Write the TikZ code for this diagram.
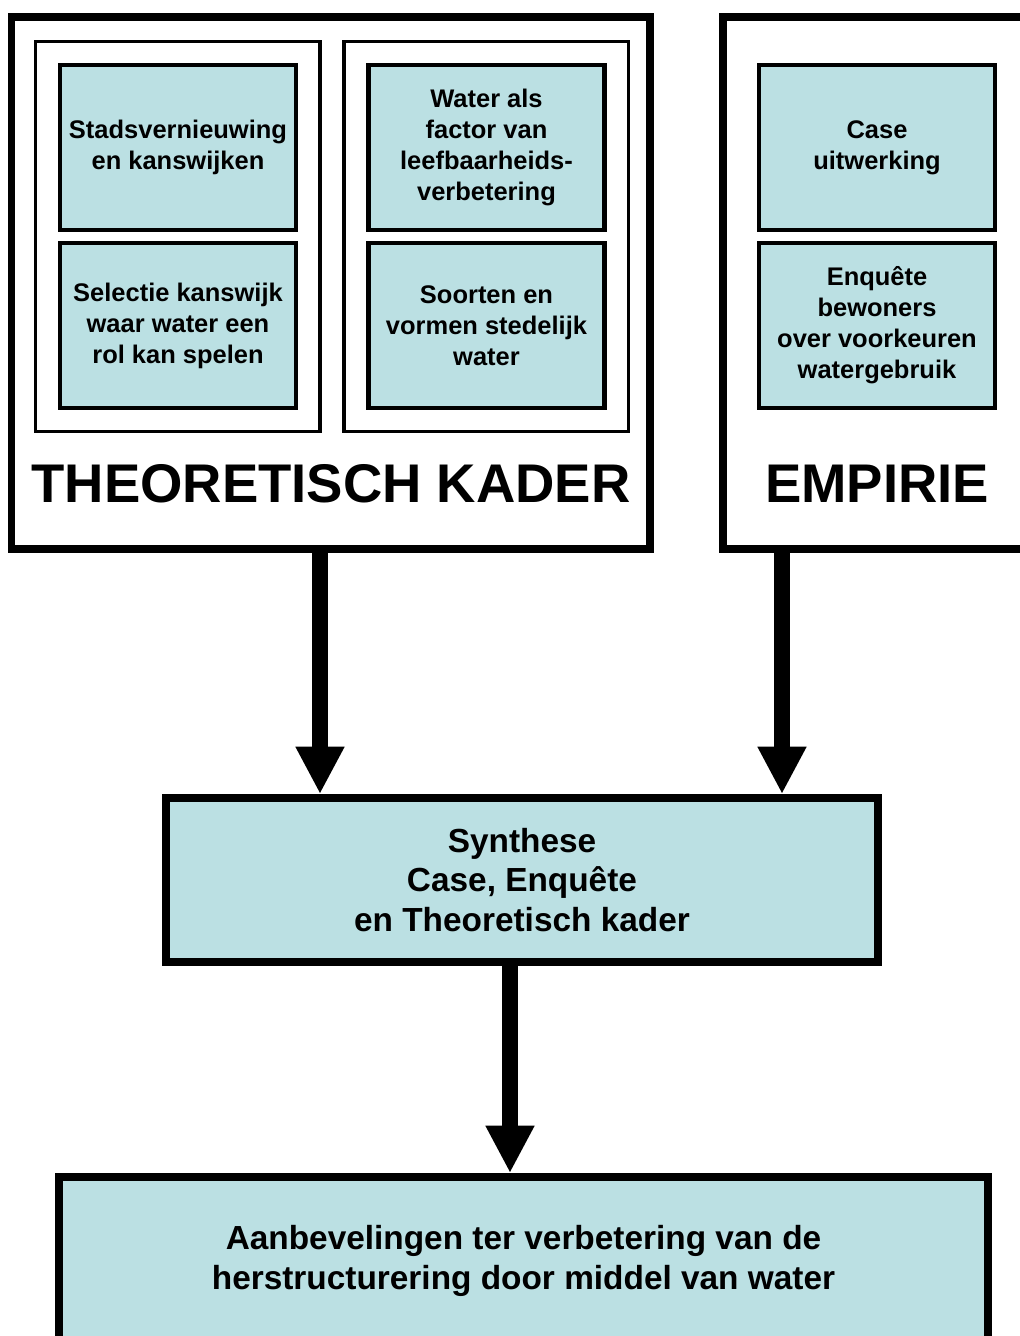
\documentclass[tikz,border=0pt]{standalone}
\usepackage{fontspec}
\setmainfont{Liberation Sans}
\usepackage{tikz}
\usetikzlibrary{arrows.meta}
\definecolor{wtrteal}{HTML}{BBE0E3}

\begin{document}
\begin{tikzpicture}[x=0.02cm, y=-0.02cm, line join=miter,
  bigframe/.style={draw, line width=4.3pt},
  subframe/.style={draw, line width=1.9pt, minimum width=284.5*0.02cm,
    minimum height=390*0.02cm},
  tealbox/.style={draw, fill=wtrteal, line width=2.5pt, inner sep=0pt,
    minimum width=236*0.02cm, minimum height=165*0.02cm, align=center,
    font=\fontsize{14.5}{17.6}\selectfont\bfseries},
  bigbox/.style={draw, fill=wtrteal, line width=4.5pt, inner sep=0pt,
    align=center, font=\fontsize{19}{22.7}\selectfont\bfseries},
  heading/.style={inner sep=0pt, font=\fontsize{31}{37}\selectfont\bfseries},
  flow/.style={line width=9pt, -{Triangle[length=27pt,width=26pt]}}]
  \path[use as bounding box] (0,0) rectangle (1020,1336);
  % outer frames, the right one and the last box run off the page
  \node[bigframe, minimum width=638.5*0.02cm, minimum height=532*0.02cm]
    (theo) at (330.75,283) {};
  \node[bigframe, minimum width=308*0.02cm, minimum height=532*0.02cm]
    (emp) at (877,283) {};
  \node[subframe] (frameA) at (177.75,236.5) {};
  \node[subframe] (frameB) at (486.25,236.5) {};
  \node[tealbox] (stads) at (178,147.5) {Stadsvernieuwing\\en kanswijken};
  \node[tealbox] (selectie) at (178,325.5)
    {Selectie kanswijk\\waar water een\\rol kan spelen};
  \node[tealbox] (factor) at (486.5,147.5)
    {Water als\\factor van\\leefbaarheids-\\verbetering};
  \node[tealbox] (soorten) at (486.5,325.5)
    {Soorten en\\vormen stedelijk\\water};
  \node[tealbox] (case) at (877,147.5) {Case\\uitwerking};
  \node[tealbox] (enquete) at (877,325.5)
    {Enquête\\bewoners\\over voorkeuren\\watergebruik};
  \node[heading] (theotitle) at (331,484) {THEORETISCH KADER};
  \node[heading] (emptitle) at (877,484) {EMPIRIE};
  \node[bigbox, minimum width=712*0.02cm, minimum height=164*0.02cm]
    (synth) at (522,880) {Synthese\\Case, Enquête\\en Theoretisch kader};
  \node[bigbox, minimum width=929*0.02cm, minimum height=168*0.02cm]
    (advies) at (523.5,1261)
    {Aanbevelingen ter verbetering van de\\herstructurering door middel van water};
  % arrow columns
  \coordinate (lx) at (320,0);
  \coordinate (rx) at (782,0);
  \coordinate (mx) at (510,0);
  \draw[flow] (theo.south -| lx) -- (synth.north -| lx);
  \draw[flow] (emp.south -| rx) -- (synth.north -| rx);
  \draw[flow] (synth.south -| mx) -- (advies.north -| mx);
\end{tikzpicture}
\end{document}
